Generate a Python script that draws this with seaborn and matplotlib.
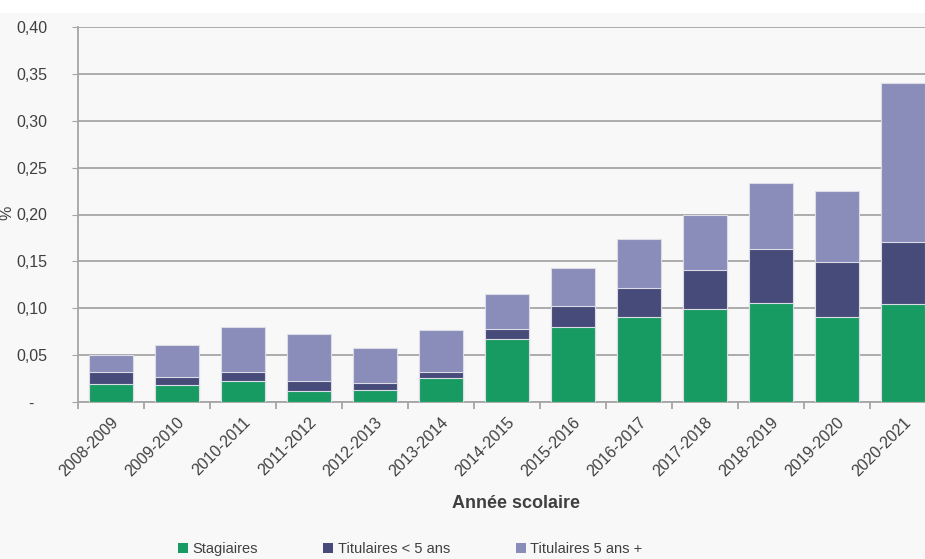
import matplotlib
matplotlib.use("Agg")
import matplotlib.pyplot as plt
from matplotlib.patches import Patch, Rectangle
from matplotlib.ticker import FuncFormatter, MultipleLocator, FixedLocator
import seaborn as sns
import pandas as pd

# Data (share, stacked)
annees = ["2008-2009", "2009-2010", "2010-2011", "2011-2012", "2012-2013", "2013-2014",
          "2014-2015", "2015-2016", "2016-2017", "2017-2018", "2018-2019", "2019-2020",
          "2020-2021"]
stagiaires = [0.019, 0.018, 0.022, 0.012, 0.013, 0.026, 0.067, 0.080, 0.091, 0.099, 0.106, 0.091, 0.105]
titulaires_moins5 = [0.013, 0.009, 0.010, 0.010, 0.007, 0.006, 0.011, 0.022, 0.031, 0.042, 0.057, 0.058, 0.066]
titulaires_5plus = [0.018, 0.034, 0.048, 0.051, 0.038, 0.045, 0.037, 0.041, 0.052, 0.059, 0.071, 0.076, 0.169]

series_names = ["Stagiaires", "Titulaires < 5 ans", "Titulaires 5 ans +"]
colors = ["#189b62", "#474b7a", "#8a8cba"]

df = pd.DataFrame({
    "annee": annees,
    "stag": stagiaires,
    "tit5m": titulaires_moins5,
    "tit5p": titulaires_5plus,
})
df["cum1"] = df["stag"]
df["cum2"] = df["cum1"] + df["tit5m"]
df["cum3"] = df["cum2"] + df["tit5p"]

bg = "#f8f8f8"
plt.rcParams["font.family"] = ["Liberation Sans", "DejaVu Sans"]

fig = plt.figure(figsize=(9.25, 5.59), dpi=100, facecolor=bg)
ax = fig.add_axes([78 / 925, 157 / 559, 858 / 925, 375 / 559])
ax.set_facecolor(bg)

# white strip at the very top
fig.patches.append(Rectangle((0, 1 - 13 / 559), 1, 13 / 559, transform=fig.transFigure,
                             facecolor="white", edgecolor="none", zorder=-1))

# stacked bars drawn from the top segment down
for col, c in zip(["cum3", "cum2", "cum1"], colors[::-1]):
    sns.barplot(data=df, x="annee", y=col, color=c, saturation=1, width=0.67,
                errorbar=None, edgecolor="#dcdce6", linewidth=0.8, ax=ax, zorder=3)

ax.set_xlim(-0.5, len(annees) - 0.5)
ax.set_ylim(0, 0.40)
ax.yaxis.set_major_locator(MultipleLocator(0.05))
ax.yaxis.set_major_formatter(FuncFormatter(
    lambda v, p: "-   " if abs(v) < 1e-9 else f"{v:.2f}".replace(".", ",")))
ax.grid(axis="y", color="#a6a6a6", linewidth=1.3, zorder=0)
ax.grid(axis="x", visible=False)

for s in ["right", "top"]:
    ax.spines[s].set_visible(False)
for s in ["left", "bottom"]:
    ax.spines[s].set_color("#a6a6a6")
    ax.spines[s].set_linewidth(1.3)

ax.tick_params(axis="y", length=4, color="#a6a6a6", pad=18, labelsize=11.5, labelcolor="#404040")
ax.tick_params(axis="x", which="major", length=0, pad=9, labelsize=11.5, labelcolor="#404040")
ax.xaxis.set_minor_locator(FixedLocator([i - 0.5 for i in range(len(annees) + 1)]))
ax.tick_params(axis="x", which="minor", length=5, color="#a6a6a6", width=1.3)
for lab in ax.get_xticklabels():
    lab.set_rotation(45)
    lab.set_ha("right")
    lab.set_rotation_mode("anchor")

ax.set_xlabel("")
ax.set_ylabel("")
fig.text(516 / 925, 1 - 504 / 559, "Année scolaire", ha="center", va="center",
         fontsize=13, fontweight="bold", color="#404040")
fig.text(7 / 925, 1 - 213 / 559, "%", ha="center", va="center", rotation=90,
         fontsize=11.5, color="#404040")

handles = [Patch(facecolor=c, edgecolor="none") for c in colors]
fig.legend(handles, series_names, loc="center", bbox_to_anchor=(410 / 925, 1 - 549 / 559),
           ncol=3, frameon=False, handlelength=0.7, handleheight=0.7,
           handletextpad=0.3, columnspacing=4.5, labelcolor="#404040",
           prop={"size": 10.5})

fig.savefig("out.png", dpi=100, facecolor=bg)
